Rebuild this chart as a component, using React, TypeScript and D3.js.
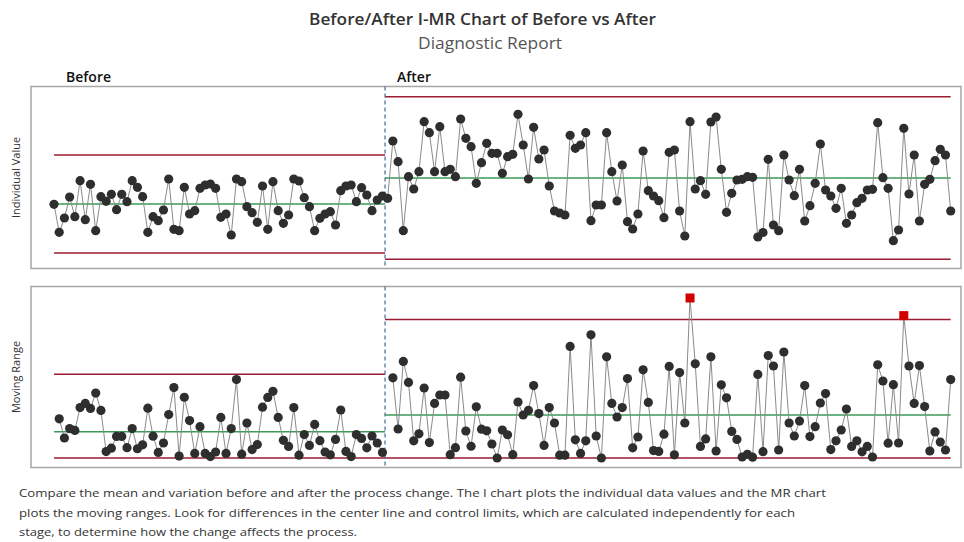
import React from "react";
import * as d3 from "d3";

const STAGES = ["Before", "After"];

const BEFORE_VALUES = [
  6.37, 3.57, 5.0, 7.1, 5.13, 8.73, 4.83, 8.37, 3.73, 7.13,
  6.67, 7.37, 5.83, 7.37, 6.63, 8.73, 8.07, 7.13, 3.57, 5.13,
  4.73, 5.8, 8.9, 3.87, 3.73, 8.07, 5.4, 5.73, 7.97, 8.3,
  8.4, 7.97, 5.07, 5.4, 3.3, 8.9, 8.63, 6.13, 5.53, 4.57,
  8.2, 3.87, 8.63, 5.73, 4.47, 5.3, 8.9, 8.7, 7.03, 6.13,
  3.73, 4.97, 5.4, 5.63, 4.3, 7.73, 8.2, 8.3, 6.63, 8.03,
  7.3, 5.73, 6.8, 7.2,
];

const AFTER_VALUES = [
  6.97, 12.7, 10.63, 3.73, 9.13, 7.9, 9.63, 14.63, 13.53, 9.63,
  14.13, 9.63, 9.87, 9.13, 14.9, 12.97, 12.13, 8.47, 10.53, 12.47,
  11.47, 11.47, 9.47, 11.13, 11.37, 15.37, 12.3, 8.9, 14.07, 10.9,
  11.8, 8.2, 5.7, 5.5, 5.3, 13.27, 11.97, 12.3, 13.53, 4.73,
  6.3, 6.3, 13.53, 9.63, 6.7, 10.3, 4.63, 3.9, 5.4, 11.7,
  7.73, 7.2, 6.73, 5.03, 11.57, 11.8, 5.7, 3.2, 14.63, 7.9,
  8.73, 7.37, 14.6, 15.1, 9.87, 5.57, 7.47, 8.8, 8.87, 9.13,
  9.07, 3.1, 3.55, 10.87, 4.3, 3.73, 11.3, 8.8, 7.23, 9.87,
  4.7, 6.23, 8.47, 12.4, 7.8, 7.2, 5.97, 7.97, 4.47, 5.3,
  6.53, 6.97, 7.8, 7.87, 14.53, 9.03, 7.97, 2.73, 3.8, 13.97,
  7.4, 11.3, 4.7, 8.37, 8.87, 10.73, 11.87, 11.3, 5.7,
];

// control limits per stage [Before, After]
const I_CENTER = [6.4, 9.0];
const I_UPPER = [11.3, 17.12];
const I_LOWER = [1.5, 0.88];
const MR_CENTER = [1.88, 3.08];
const MR_UPPER = [5.98, 9.9];
const MR_LOWER = [0, 0];

const TITLE = "Before/After I-MR Chart of Before vs After";
const SUBTITLE = "Diagnostic Report";
const Y_LABELS = ["Individual Value", "Moving Range"];
const NOTE_LINES = [
  "Compare the mean and variation before and after the process change. The I chart plots the individual data values and the MR chart",
  "plots the moving ranges. Look for differences in the center line and control limits, which are calculated independently for each",
  "stage, to determine how the change affects the process.",
];
const NOTE_WIDTHS = [807, 776, 338];

const FONT = "'Segoe UI', 'Open Sans', 'Noto Sans', sans-serif";
const RED = "#9b1d32";
const GREEN = "#3b9a58";
const DOT = "#2e2e2e";
const CONNECT = "#8a8a8a";
const FLAG = "#d10000";
const DIVIDER = "#3d6a96";

type Pt = { i: number; s: number; v: number; mr: number | null };

export default function App() {
  const W = 964;
  const H = 542;
  const stageData = [BEFORE_VALUES, AFTER_VALUES];
  const pts: Pt[] = [];
  let idx = 0;
  stageData.forEach((vals, s) =>
    vals.forEach((v, k) => {
      pts.push({ i: idx++, s, v, mr: k === 0 ? null : Math.abs(v - vals[k - 1]) });
    })
  );
  const N = pts.length;
  const x = d3.scaleLinear().domain([0, N - 1]).range([54, 950.7]);
  const breakIdx = BEFORE_VALUES.length - 0.5;
  const bounds = [
    [0, breakIdx],
    [breakIdx, N - 1],
  ];
  const xDiv = x(breakIdx);

  const yI = d3.scaleLinear().domain([0, 18]).range([268, 88]);
  const yMR = d3.scaleLinear().domain([0, 12]).range([458, 290]);

  const panelI = { x: 31, y: 86.5, w: 930, h: 182 };
  const panelMR = { x: 31, y: 286.5, w: 930, h: 181 };
  const R = 4.6;

  const lineI = d3
    .line<Pt>()
    .x((d) => x(d.i))
    .y((d) => yI(d.v));
  const lineMR = d3
    .line<Pt>()
    .x((d) => x(d.i))
    .y((d) => yMR(d.mr as number));

  const limitSegs = (
    scale: d3.ScaleLinear<number, number>,
    arrs: number[][],
    colors: string[]
  ) =>
    arrs.map((arr, a) =>
      arr.map((val, s) => (
        <line
          key={`l${a}-${s}`}
          x1={x(bounds[s][0])}
          x2={x(bounds[s][1])}
          y1={scale(val)}
          y2={scale(val)}
          stroke={colors[a]}
          strokeWidth={1.5}
        />
      ))
    );

  return (
    <svg
      width={W}
      height={H}
      style={{ position: "absolute", left: 0, top: 0, background: "#fff" }}
      fontFamily={FONT}
    >
      <rect width={W} height={H} fill="#fff" />
      <text
        x={309}
        y={25}
        fontSize={16.5}
        fontWeight={600}
        fill="#333"
        textLength={347}
        lengthAdjust="spacingAndGlyphs"
      >
        {TITLE}
      </text>
      <text
        x={418}
        y={49}
        fontSize={15.5}
        fill="#555"
        textLength={144}
        lengthAdjust="spacingAndGlyphs"
      >
        {SUBTITLE}
      </text>

      {STAGES.map((s, k) => (
        <text
          key={s}
          x={k === 0 ? 66 : 397}
          y={81.5}
          fontSize={14}
          fontWeight={600}
          fill="#111"
        >
          {s}
        </text>
      ))}

      {/* I chart */}
      <rect
        x={panelI.x}
        y={panelI.y}
        width={panelI.w}
        height={panelI.h}
        fill="#fff"
        stroke="#a6a6a6"
        strokeWidth={1.5}
      />
      {limitSegs(yI, [I_UPPER, I_LOWER, I_CENTER], [RED, RED, GREEN])}
      <line
        x1={xDiv}
        x2={xDiv}
        y1={panelI.y}
        y2={panelI.y + panelI.h}
        stroke={DIVIDER}
        strokeWidth={1.2}
        strokeDasharray="4,3"
      />
      {stageData.map((_, s) => (
        <path
          key={`ci${s}`}
          d={lineI(pts.filter((p) => p.s === s)) || ""}
          fill="none"
          stroke={CONNECT}
          strokeWidth={1}
        />
      ))}
      {pts.map((p) => (
        <circle key={`pi${p.i}`} cx={x(p.i)} cy={yI(p.v)} r={R} fill={DOT} />
      ))}
      <text
        transform={`translate(20,${panelI.y + panelI.h / 2}) rotate(-90)`}
        textAnchor="middle"
        fontSize={11}
        fill="#333"
      >
        {Y_LABELS[0]}
      </text>

      {/* MR chart */}
      <rect
        x={panelMR.x}
        y={panelMR.y}
        width={panelMR.w}
        height={panelMR.h}
        fill="#fff"
        stroke="#a6a6a6"
        strokeWidth={1.5}
      />
      {limitSegs(yMR, [MR_UPPER, MR_LOWER, MR_CENTER], [RED, RED, GREEN])}
      <line
        x1={xDiv}
        x2={xDiv}
        y1={panelMR.y}
        y2={panelMR.y + panelMR.h}
        stroke={DIVIDER}
        strokeWidth={1.2}
        strokeDasharray="4,3"
      />
      {stageData.map((_, s) => (
        <path
          key={`cm${s}`}
          d={lineMR(pts.filter((p) => p.s === s && p.mr !== null)) || ""}
          fill="none"
          stroke={CONNECT}
          strokeWidth={1}
        />
      ))}
      {pts
        .filter((p) => p.mr !== null)
        .map((p) =>
          (p.mr as number) > MR_UPPER[p.s] ? (
            <rect
              key={`pm${p.i}`}
              x={x(p.i) - 4.5}
              y={yMR(p.mr as number) - 4.5}
              width={9}
              height={9}
              fill={FLAG}
            />
          ) : (
            <circle key={`pm${p.i}`} cx={x(p.i)} cy={yMR(p.mr as number)} r={R} fill={DOT} />
          )
        )}
      <text
        transform={`translate(20,${panelMR.y + panelMR.h / 2}) rotate(-90)`}
        textAnchor="middle"
        fontSize={11}
        fill="#333"
      >
        {Y_LABELS[1]}
      </text>

      {NOTE_LINES.map((t, k) => (
        <text
          key={`n${k}`}
          x={19}
          y={497 + k * 19.5}
          fontSize={11.5}
          fill="#333"
          textLength={NOTE_WIDTHS[k]}
          lengthAdjust="spacingAndGlyphs"
        >
          {t}
        </text>
      ))}
    </svg>
  );
}
